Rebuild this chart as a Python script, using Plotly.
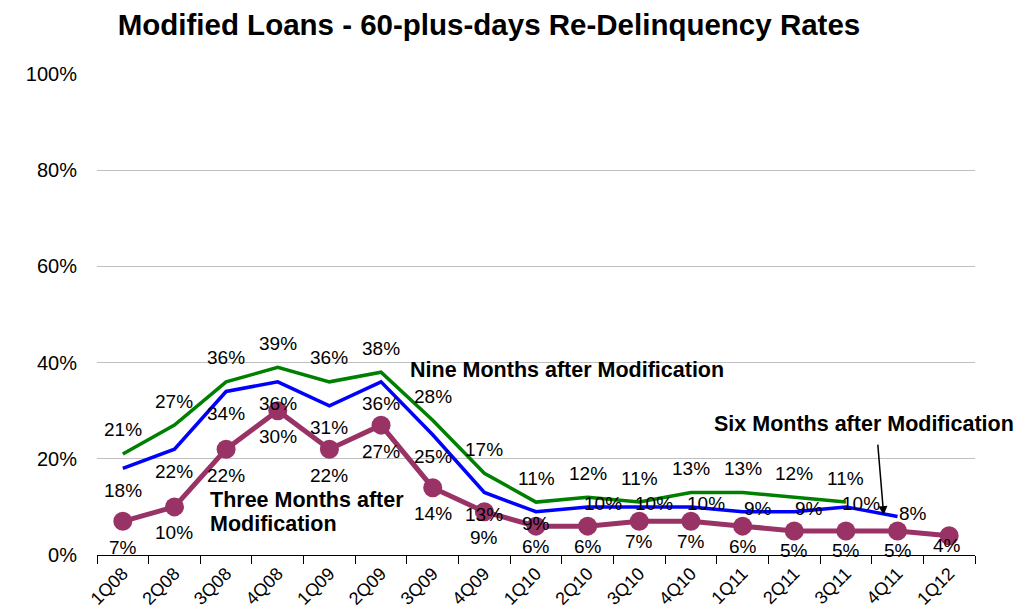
import plotly.graph_objects as go

quarters = ["1Q08", "2Q08", "3Q08", "4Q08", "1Q09", "2Q09", "3Q09", "4Q09",
            "1Q10", "2Q10", "3Q10", "4Q10", "1Q11", "2Q11", "3Q11", "4Q11", "1Q12"]
three_months = [7, 10, 22, 30, 22, 27, 14, 9, 6, 6, 7, 7, 6, 5, 5, 5, 4]
six_months = [18, 22, 34, 36, 31, 36, 25, 13, 9, 10, 10, 10, 9, 9, 10, 8]
nine_months = [21, 27, 36, 39, 36, 38, 28, 17, 11, 12, 11, 13, 13, 12, 11]
y_ticks = [0, 20, 40, 60, 80, 100]
y_tick_labels = ["0%", "20%", "40%", "60%", "80%", "100%"]

FONT = "Arial, Liberation Sans, sans-serif"
GREEN = "#008000"
BLUE = "#0000FF"
PURPLE = "#993366"

fig = go.Figure()
fig.add_trace(go.Scatter(x=quarters[:len(nine_months)], y=nine_months, mode="lines",
                         line=dict(color=GREEN, width=3.5), name="Nine Months"))
fig.add_trace(go.Scatter(x=quarters[:len(six_months)], y=six_months, mode="lines",
                         line=dict(color=BLUE, width=3.5), name="Six Months"))
fig.add_trace(go.Scatter(x=quarters, y=three_months, mode="lines+markers",
                         line=dict(color=PURPLE, width=5),
                         marker=dict(color=PURPLE, size=19), name="Three Months"))

label_style = dict(family=FONT, size=19, color="black")
annotations = []
for q, v in zip(quarters, nine_months):
    annotations.append(dict(x=q, y=v, xref="x", yref="y", text=f"{v}%",
                            showarrow=False, yshift=24, font=label_style))
for i, (q, v) in enumerate(zip(quarters, six_months)):
    # early labels sit below the line; on the flat tail they sit beside it
    if i < 8:
        xs, ys = 0, -22
    elif i == 8:
        xs, ys = 0, -12
    else:
        xs, ys = 15, 3
    annotations.append(dict(x=q, y=v, xref="x", yref="y", text=f"{v}%",
                            showarrow=False, xshift=xs, yshift=ys, font=label_style))
n3 = len(three_months)
for i, (q, v) in enumerate(zip(quarters, three_months)):
    if i < 8:
        xs, ys = 0, -26
    elif i < n3 - 1:
        xs, ys = 0, -20
    else:
        xs, ys = -2, -10
    annotations.append(dict(x=q, y=v, xref="x", yref="y", text=f"{v}%",
                            showarrow=False, xshift=xs, yshift=ys, font=label_style))

label_font = dict(family=FONT, size=21.5, color="black")
annotations += [
    dict(xref="paper", yref="paper", x=0.354, y=0.385, xanchor="left", yanchor="middle",
         text="<b>Nine Months after Modification</b>", showarrow=False, font=label_font),
    dict(xref="paper", yref="paper", x=0.126, y=0.114, xanchor="left", yanchor="middle",
         text="<b>Three Months after</b>", showarrow=False, font=label_font),
    dict(xref="paper", yref="paper", x=0.126, y=0.064, xanchor="left", yanchor="middle",
         text="<b>Modification</b>", showarrow=False, font=label_font),
    dict(xref="paper", yref="paper", x=0.700, y=0.272, xanchor="left", yanchor="middle",
         text="<b>Six Months after Modification</b>", showarrow=False, font=label_font),
    dict(xref="paper", yref="paper", x=0.896, y=0.083, text="", showarrow=True,
         ax=-6, ay=-72, arrowhead=2, arrowsize=1.2, arrowwidth=1.5, arrowcolor="black"),
]

# page body has an 8px margin, so the figure is drawn 8px in from the top-left
fig.update_layout(
    width=1019, height=608,
    margin=dict(l=89, r=52, t=66, b=61),
    paper_bgcolor="white", plot_bgcolor="white",
    showlegend=False,
    font=dict(family=FONT, color="black"),
    title=dict(text="<b>Modified Loans - 60-plus-days Re-Delinquency Rates</b>",
               xref="container", x=0.472, xanchor="center",
               yref="container", y=0.972, yanchor="middle",
               font=dict(family=FONT, size=29.5, color="black")),
    annotations=annotations,
)
fig.update_xaxes(type="category", categoryorder="array", categoryarray=quarters,
                 showline=True, linecolor="black", linewidth=1,
                 ticks="outside", tickson="boundaries", ticklen=8, tickcolor="black",
                 tickangle=-45, tickfont=dict(family=FONT, size=18, color="black"),
                 showgrid=False, range=[-0.5, len(quarters) - 0.5], automargin=False)
fig.update_yaxes(range=[0, 100], tickvals=y_ticks, ticktext=y_tick_labels,
                 tickfont=dict(family=FONT, size=20, color="black"),
                 ticklabelstandoff=19,
                 showgrid=True, gridcolor="#C0C0C0", gridwidth=1,
                 zeroline=False, showline=False, ticks="", automargin=False)

fig.write_html("out.html")
